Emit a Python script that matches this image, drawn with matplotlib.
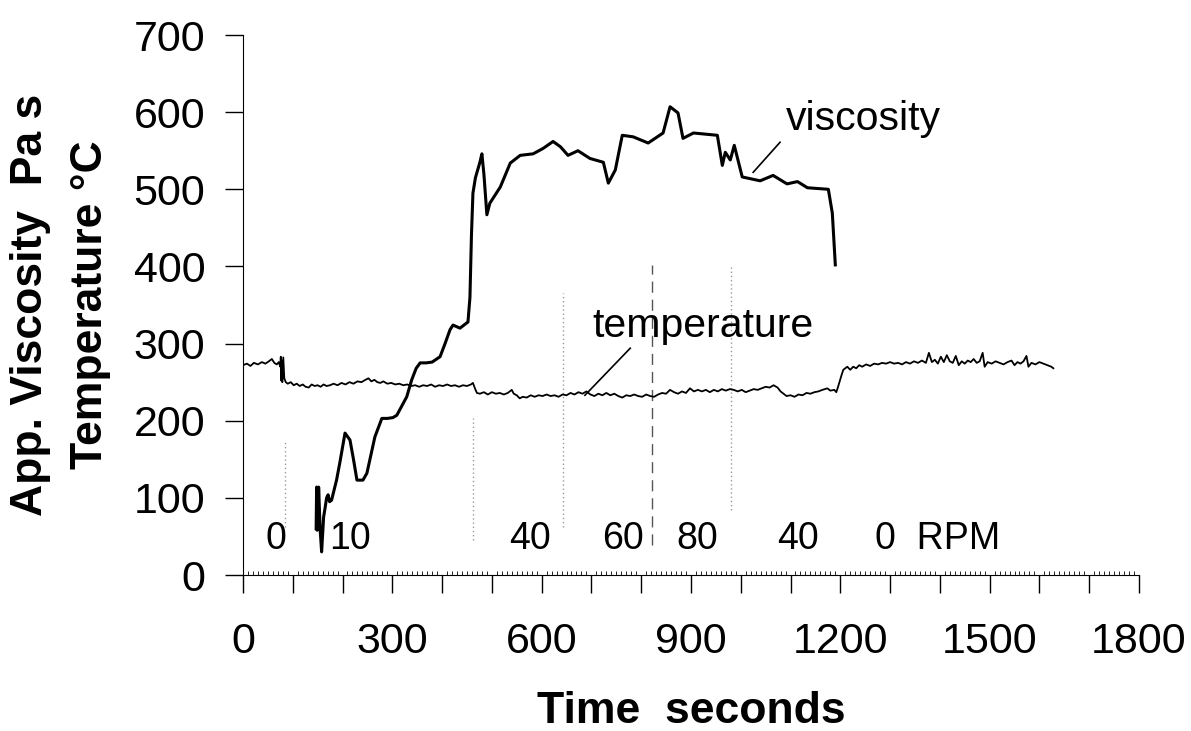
import matplotlib
matplotlib.use("Agg")
import matplotlib.pyplot as plt
from matplotlib.ticker import MultipleLocator, FuncFormatter

plt.rcParams['font.family'] = ['Liberation Sans', 'DejaVu Sans']

# viscosity trace (time s, Pa s)
visc_t = [147, 148, 149, 150, 151, 152, 155, 158, 162, 165, 168, 171, 174, 178,
          183, 188, 195, 205, 215, 222, 229, 241, 249, 265, 279, 290, 301, 309,
          329, 339, 348, 356, 368, 380, 396, 406, 416, 422, 436, 452, 456, 459,
          462, 467, 476, 480, 484, 490, 496, 517, 537, 557, 583, 603, 623, 638,
          653, 673, 697, 724, 734, 748, 762, 784, 814, 844, 858, 874, 884, 905,
          953, 963, 969, 979, 987, 1003, 1039, 1065, 1093, 1114, 1134, 1176,
          1184, 1190]
visc_v = [60, 114, 58, 112, 60, 114, 60, 30, 75, 87, 100, 104, 95, 97,
          110, 123, 147, 184, 175, 150, 123, 123, 132, 179, 203, 203, 204, 207,
          231, 253, 268, 275, 275, 276, 283, 300, 318, 324, 320, 328, 360, 440,
          495, 515, 535, 546, 520, 467, 482, 503, 534, 544, 546, 553, 562, 555,
          544, 550, 540, 535, 508, 525, 570, 568, 560, 573, 607, 599, 566, 573,
          570, 531, 548, 538, 557, 516, 511, 518, 507, 510, 502, 500,
          469, 402]

# temperature trace (time s, deg C)
temp_t = [0, 8, 15, 22, 30, 38, 45, 52, 58, 63, 68, 72, 75, 76, 77, 78, 79, 81,
          83, 86, 90, 96, 102, 108, 114, 120, 126, 132, 138, 144, 150, 156, 162,
          168, 175, 182, 190, 198, 206, 214, 222, 230, 238, 246, 252, 258, 264,
          270, 276, 282, 290, 298, 306, 314, 322, 330, 338, 346, 354, 362, 370,
          378, 386, 394, 402, 410, 418, 426, 434, 442, 450, 458, 462, 466, 470,
          476, 484, 492, 500, 508, 516, 524, 532, 540, 544, 550, 556, 562, 570,
          578, 586, 594, 602, 610, 618, 626, 634, 642, 650, 658, 666, 674, 682,
          690, 698, 706, 714, 722, 730, 738, 746, 754, 762, 770, 778, 786, 794,
          802, 810, 818, 826, 834, 842, 850, 858, 866, 874, 882, 890, 898, 906,
          914, 922, 930, 938, 946, 954, 962, 970, 978, 986, 994, 1002, 1010,
          1018, 1026, 1034, 1042, 1050, 1058, 1066, 1074, 1080, 1086, 1092,
          1100, 1108, 1116, 1124, 1132, 1140, 1148, 1156, 1164, 1174, 1180,
          1188, 1192, 1196, 1202, 1206, 1214, 1220, 1226, 1232, 1238, 1244,
          1252, 1260, 1268, 1276, 1284, 1292, 1300, 1308, 1316, 1324, 1332,
          1340, 1348, 1356, 1364, 1372, 1378, 1384, 1390, 1396, 1402, 1408,
          1414, 1420, 1426, 1432, 1438, 1444, 1450, 1456, 1462, 1468, 1474,
          1480, 1486, 1490, 1496, 1504, 1512, 1520, 1528, 1536, 1544, 1550,
          1556, 1562, 1568, 1574, 1578, 1584, 1592, 1600, 1608, 1616, 1624, 1628]
temp_v = [272, 274, 271, 275, 273, 276, 274, 277, 280, 275, 273, 276, 270, 283,
          252, 278, 250, 282, 255, 250, 248, 250, 246, 248, 245, 247, 244, 243,
          247, 245, 246, 244, 247, 245, 246, 248, 246, 249, 247, 250, 248, 251,
          250, 253, 255, 251, 253, 250, 249, 251, 248, 249, 247, 248, 246, 247,
          245, 246, 244, 246, 245, 247, 244, 246, 245, 247, 245, 246, 244, 246,
          245, 247, 249, 242, 236, 235, 237, 234, 237, 235, 236, 234, 236, 240,
          235, 233, 229, 231, 230, 233, 231, 233, 232, 234, 232, 233, 231, 234,
          233, 236, 234, 237, 235, 238, 234, 232, 235, 233, 236, 233, 235, 232,
          230, 233, 232, 234, 232, 231, 234, 232, 231, 234, 236, 235, 240, 237,
          235, 238, 236, 242, 238, 240, 238, 240, 237, 240, 238, 241, 239, 241,
          240, 238, 240, 237, 239, 241, 240, 242, 244, 243, 246, 243, 238, 235,
          232, 233, 231, 234, 233, 236, 235, 237, 238, 240, 242, 239, 240, 237,
          245, 258, 266, 270, 266, 270, 268, 272, 270, 273, 271, 274, 273, 275,
          274, 276, 274, 275, 273, 276, 274, 277, 275, 278, 275, 288, 276, 279,
          274, 283, 276, 285, 277, 275, 284, 272, 277, 274, 278, 276, 280, 275,
          277, 288, 270, 276, 274, 277, 275, 273, 276, 278, 272, 276, 274, 277,
          284, 270, 275, 273, 276, 274, 272, 270, 268]

# rotor speed changes (s) and the extent of the marker lines
rpm_change_t = [84, 462, 643, 981]
rpm_line_lo = [62, 45, 62, 84]
rpm_line_hi = [172, 203, 365, 402]
dashed_t = 822
dashed_lo, dashed_hi = 39, 402

rpm_labels = ['0', '10', '40', '60', '80', '40']
rpm_label_t = [66, 215, 577, 764, 913, 1115]

fig = plt.figure(figsize=(11.91, 7.31), dpi=100)
ax = fig.add_axes([0.204, 0.2134, 0.7523, 0.7387])

ax.vlines(rpm_change_t, rpm_line_lo, rpm_line_hi, colors='#9a9a9a',
          linestyles=(0, (1, 2)), linewidth=1.0)
ax.vlines(dashed_t, dashed_lo, dashed_hi, colors='#555555',
          linestyles=(0, (8, 5)), linewidth=1.0)

ax.plot(temp_t, temp_v, color='black', linewidth=1.3)
ax.plot(visc_t, visc_v, color='black', linewidth=2.2)

for lab, t in zip(rpm_labels, rpm_label_t):
    ax.text(t, 47, lab, fontsize=27, ha='center', va='center')
ax.text(1270, 47, '0  RPM', fontsize=27, ha='left', va='center')

ax.text(1090, 577, 'viscosity', fontsize=29.5, ha='left', va='baseline')
ax.plot([1025, 1079], [522, 561], color='black', linewidth=1.2)
ax.text(701, 308, 'temperature', fontsize=29.5, ha='left', va='baseline')
ax.plot([687, 778], [233, 294], color='black', linewidth=1.2)

ax.set_xlim(0, 1800)
ax.set_ylim(0, 700)
ax.spines['top'].set_visible(False)
ax.spines['right'].set_visible(False)

ax.xaxis.set_major_locator(MultipleLocator(100))
ax.xaxis.set_major_formatter(FuncFormatter(
    lambda v, p: '%d' % v if int(round(v)) % 300 == 0 else ''))
ax.xaxis.set_minor_locator(MultipleLocator(10))
ax.yaxis.set_major_locator(MultipleLocator(100))

ax.tick_params(axis='x', which='major', direction='out', length=13,
               width=1.0, labelsize=31, pad=21)
ax.tick_params(axis='x', which='minor', direction='in', length=3, width=0.6)
ax.tick_params(axis='y', which='major', direction='out', length=13,
               width=1.0, labelsize=31, pad=14)

ax.set_xlabel('Time  seconds', fontsize=32, fontweight='bold', labelpad=21)
ax.set_ylabel('App. Viscosity  Pa s\nTemperature \u00b0C', fontsize=32,
              fontweight='bold', labelpad=16, linespacing=1.6)

fig.savefig('out.png', dpi=100)
